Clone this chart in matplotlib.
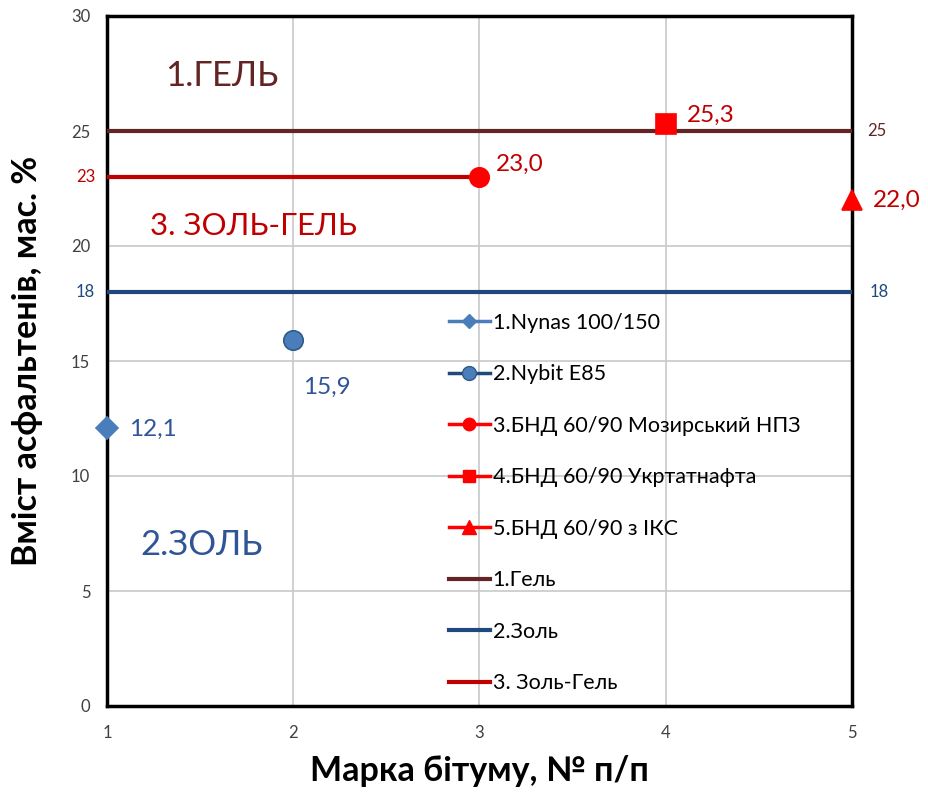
import matplotlib
matplotlib.use("Agg")
import matplotlib.pyplot as plt
from matplotlib.transforms import blended_transform_factory
from matplotlib.lines import Line2D

plt.rcParams['font.family'] = ['Lato', 'DejaVu Sans']

# Data
series_names = ["1.Nynas 100/150", "2.Nybit E85", "3.БНД 60/90 Мозирський НПЗ",
                "4.БНД 60/90 Укртатнафта", "5.БНД 60/90 з ІКС"]
series_x = [1, 2, 3, 4, 5]
series_y = [12.1, 15.9, 23.0, 25.3, 22.0]
series_labels = ["12,1", "15,9", "23,0", "25,3", "22,0"]

gel_level = 25
zol_level = 18
zolgel_level = 23
gel_x = [1, 5]
zol_x = [1, 5]
zolgel_x = [1, 3]

x_ticks = [1, 2, 3, 4, 5]
y_ticks = [0, 5, 10, 15, 20, 25, 30]

c_blue = "#4A7EBB"
c_blue_edge = "#2F5A8A"
c_red = "#FF0000"
c_gel = "#632523"
c_zol = "#1F497D"
c_zolgel = "#C00000"
c_lab_red = "#C00000"
c_lab_blue = "#2F5597"

fig = plt.figure(figsize=(9.29, 7.94), dpi=100)
ax = fig.add_axes([107/929, 1-706/794, (852-107)/929, (706-16)/794])
ax.set_xlim(1, 5)
ax.set_ylim(0, 30)

# grid
ax.set_xticks(x_ticks)
ax.set_yticks(y_ticks)
ax.grid(True, color="#C8C8C8", lw=1.2, zorder=0)
ax.tick_params(length=0, labelsize=12, labelcolor="#404040")
ax.tick_params(axis='x', pad=14)
ax.tick_params(axis='y', pad=12)
for s in ax.spines.values():
    s.set_linewidth(2.5)
    s.set_color("black")
    s.set_zorder(3)

# boundary lines
ax.plot(gel_x, [gel_level]*2, color=c_gel, lw=3, zorder=4, solid_capstyle='butt')
ax.plot(zol_x, [zol_level]*2, color=c_zol, lw=3, zorder=4, solid_capstyle='butt')
ax.plot(zolgel_x, [zolgel_level]*2, color=c_zolgel, lw=3, zorder=4, solid_capstyle='butt')

# points
markers = ["D", "o", "o", "s", "^"]
sizes = [11, 14, 14, 14, 15]
faces = [c_blue, c_blue, c_red, c_red, c_red]
edges = [c_blue, c_blue_edge, c_red, c_red, c_red]
for xv, yv, m, ms, fc, ec in zip(series_x, series_y, markers, sizes, faces, edges):
    ax.plot([xv], [yv], marker=m, ms=ms, mfc=fc, mec=ec, mew=1.2, ls='none',
            zorder=6, clip_on=False)

# data labels
lab_cols = [c_lab_blue, c_lab_blue, c_lab_red, c_lab_red, c_lab_red]
offsets = [(16, -1), (7, -34), (12, 9), (15, 6), (15, 0)]
for xv, yv, t, c, (dx, dy) in zip(series_x, series_y, series_labels, lab_cols, offsets):
    ax.annotate(t, (xv, yv), xytext=(dx, dy), textcoords='offset points',
                color=c, fontsize=17.5, ha='left', va='center', annotation_clip=False)

# region labels
ax.text(1.31, 27.4, "1.ГЕЛЬ", color=c_gel, fontsize=25, ha='left', va='center')
ax.text(1.23, 20.85, "3. ЗОЛЬ-ГЕЛЬ", color=c_zolgel, fontsize=22.5, ha='left', va='center')
ax.text(1.18, 7.0, "2.ЗОЛЬ", color=c_lab_blue, fontsize=25, ha='left', va='center')

# extra level labels
tl = blended_transform_factory(ax.transAxes, ax.transData)
ax.text(-0.016, zolgel_level, "23", color=c_lab_red, fontsize=12, ha='right', va='center', transform=tl)
ax.text(-0.016, zol_level, "18", color=c_zol, fontsize=12, ha='right', va='center', transform=tl)
ax.text(1.02, gel_level, "25", color=c_gel, fontsize=12, ha='left', va='center', transform=tl)
ax.text(1.024, zol_level, "18", color=c_zol, fontsize=12, ha='left', va='center', transform=tl)

# legend
handles = [
    Line2D([], [], color=c_blue, lw=2.5, marker="D", ms=7, mfc=c_blue, mec=c_blue),
    Line2D([], [], color=c_zol, lw=2.5, marker="o", ms=10, mfc=c_blue, mec=c_blue_edge),
    Line2D([], [], color=c_red, lw=2.5, marker="o", ms=9, mfc=c_red, mec=c_red),
    Line2D([], [], color=c_red, lw=2.5, marker="s", ms=9, mfc=c_red, mec=c_red),
    Line2D([], [], color=c_red, lw=2.5, marker="^", ms=10, mfc=c_red, mec=c_red),
    Line2D([], [], color=c_gel, lw=3),
    Line2D([], [], color=c_zol, lw=3),
    Line2D([], [], color=c_zolgel, lw=3),
]
labels = series_names + ["1.Гель", "2.Золь", "3. Золь-Гель"]
leg = ax.legend(handles, labels, loc='upper left', bbox_to_anchor=(0.447, 0.582),
                frameon=False, fontsize=15.5, handlelength=1.9, handletextpad=0.15,
                labelspacing=1.46, borderaxespad=0)
leg.set_zorder(7)

ax.set_xlabel("Марка бітуму, № п/п", fontsize=24.5, fontweight='bold', labelpad=10)
ax.set_ylabel("Вміст асфальтенів, мас. %", fontsize=24.5, fontweight='bold', labelpad=20)

fig.savefig("out.png", dpi=100)
